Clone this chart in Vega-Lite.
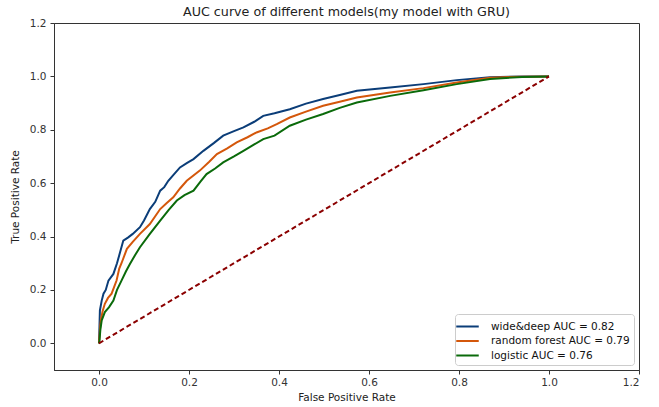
{
  "$schema": "https://vega.github.io/schema/vega-lite/v6.json",
  "width": 585,
  "height": 347,
  "autosize": {"type": "none"},
  "padding": {"left": 54, "top": 23, "right": 20, "bottom": 37},
  "title": {"text": "AUC curve of different models(my model with GRU)", "fontSize": 12.7, "font": "DejaVu Sans", "fontWeight": "normal", "color": "#222", "anchor": "middle", "offset": -1},
  "config": {
    "view": {"stroke": "#333", "strokeWidth": 1},
    "axis": {"grid": false, "domainColor": "#333", "tickColor": "#333", "labelColor": "#333", "titleColor": "#222", "tickSize": 4, "labelFontSize": 10.5, "titleFontSize": 10.5, "titleFontWeight": "normal", "labelFont": "DejaVu Sans", "titleFont": "DejaVu Sans"},
    "legend": {"labelFont": "DejaVu Sans", "labelFontSize": 10.5, "labelColor": "#111"}
  },
  "datasets": {
    "roc": [
      {"model": "wide&deep AUC = 0.82", "fpr": 0, "tpr": 0},
      {"model": "wide&deep AUC = 0.82", "fpr": 0.001, "tpr": 0.06},
      {"model": "wide&deep AUC = 0.82", "fpr": 0.002, "tpr": 0.123},
      {"model": "wide&deep AUC = 0.82", "fpr": 0.006, "tpr": 0.16},
      {"model": "wide&deep AUC = 0.82", "fpr": 0.01, "tpr": 0.186},
      {"model": "wide&deep AUC = 0.82", "fpr": 0.015, "tpr": 0.2},
      {"model": "wide&deep AUC = 0.82", "fpr": 0.021, "tpr": 0.235},
      {"model": "wide&deep AUC = 0.82", "fpr": 0.032, "tpr": 0.26},
      {"model": "wide&deep AUC = 0.82", "fpr": 0.04, "tpr": 0.3},
      {"model": "wide&deep AUC = 0.82", "fpr": 0.045, "tpr": 0.33},
      {"model": "wide&deep AUC = 0.82", "fpr": 0.054, "tpr": 0.385},
      {"model": "wide&deep AUC = 0.82", "fpr": 0.065, "tpr": 0.397},
      {"model": "wide&deep AUC = 0.82", "fpr": 0.075, "tpr": 0.41},
      {"model": "wide&deep AUC = 0.82", "fpr": 0.091, "tpr": 0.435},
      {"model": "wide&deep AUC = 0.82", "fpr": 0.1, "tpr": 0.46},
      {"model": "wide&deep AUC = 0.82", "fpr": 0.113, "tpr": 0.503},
      {"model": "wide&deep AUC = 0.82", "fpr": 0.125, "tpr": 0.53},
      {"model": "wide&deep AUC = 0.82", "fpr": 0.136, "tpr": 0.572},
      {"model": "wide&deep AUC = 0.82", "fpr": 0.145, "tpr": 0.585},
      {"model": "wide&deep AUC = 0.82", "fpr": 0.154, "tpr": 0.609},
      {"model": "wide&deep AUC = 0.82", "fpr": 0.165, "tpr": 0.63},
      {"model": "wide&deep AUC = 0.82", "fpr": 0.18, "tpr": 0.659},
      {"model": "wide&deep AUC = 0.82", "fpr": 0.195, "tpr": 0.675},
      {"model": "wide&deep AUC = 0.82", "fpr": 0.21, "tpr": 0.69},
      {"model": "wide&deep AUC = 0.82", "fpr": 0.232, "tpr": 0.721},
      {"model": "wide&deep AUC = 0.82", "fpr": 0.255, "tpr": 0.75},
      {"model": "wide&deep AUC = 0.82", "fpr": 0.276, "tpr": 0.778},
      {"model": "wide&deep AUC = 0.82", "fpr": 0.3, "tpr": 0.795},
      {"model": "wide&deep AUC = 0.82", "fpr": 0.321, "tpr": 0.809},
      {"model": "wide&deep AUC = 0.82", "fpr": 0.345, "tpr": 0.83},
      {"model": "wide&deep AUC = 0.82", "fpr": 0.365, "tpr": 0.852},
      {"model": "wide&deep AUC = 0.82", "fpr": 0.39, "tpr": 0.862},
      {"model": "wide&deep AUC = 0.82", "fpr": 0.424, "tpr": 0.877},
      {"model": "wide&deep AUC = 0.82", "fpr": 0.46, "tpr": 0.898},
      {"model": "wide&deep AUC = 0.82", "fpr": 0.498, "tpr": 0.915},
      {"model": "wide&deep AUC = 0.82", "fpr": 0.535, "tpr": 0.93},
      {"model": "wide&deep AUC = 0.82", "fpr": 0.573, "tpr": 0.946},
      {"model": "wide&deep AUC = 0.82", "fpr": 0.647, "tpr": 0.958},
      {"model": "wide&deep AUC = 0.82", "fpr": 0.721, "tpr": 0.971},
      {"model": "wide&deep AUC = 0.82", "fpr": 0.795, "tpr": 0.986},
      {"model": "wide&deep AUC = 0.82", "fpr": 0.869, "tpr": 0.997},
      {"model": "wide&deep AUC = 0.82", "fpr": 0.94, "tpr": 1.0},
      {"model": "wide&deep AUC = 0.82", "fpr": 1, "tpr": 1},
      {"model": "random forest AUC = 0.79", "fpr": 0, "tpr": 0},
      {"model": "random forest AUC = 0.79", "fpr": 0.002, "tpr": 0.05},
      {"model": "random forest AUC = 0.79", "fpr": 0.004, "tpr": 0.086},
      {"model": "random forest AUC = 0.79", "fpr": 0.008, "tpr": 0.12},
      {"model": "random forest AUC = 0.79", "fpr": 0.013, "tpr": 0.148},
      {"model": "random forest AUC = 0.79", "fpr": 0.02, "tpr": 0.17},
      {"model": "random forest AUC = 0.79", "fpr": 0.028, "tpr": 0.186},
      {"model": "random forest AUC = 0.79", "fpr": 0.039, "tpr": 0.235},
      {"model": "random forest AUC = 0.79", "fpr": 0.045, "tpr": 0.28},
      {"model": "random forest AUC = 0.79", "fpr": 0.05, "tpr": 0.3},
      {"model": "random forest AUC = 0.79", "fpr": 0.062, "tpr": 0.354},
      {"model": "random forest AUC = 0.79", "fpr": 0.075, "tpr": 0.38},
      {"model": "random forest AUC = 0.79", "fpr": 0.091, "tpr": 0.41},
      {"model": "random forest AUC = 0.79", "fpr": 0.113, "tpr": 0.447},
      {"model": "random forest AUC = 0.79", "fpr": 0.136, "tpr": 0.503},
      {"model": "random forest AUC = 0.79", "fpr": 0.15, "tpr": 0.525},
      {"model": "random forest AUC = 0.79", "fpr": 0.165, "tpr": 0.547},
      {"model": "random forest AUC = 0.79", "fpr": 0.18, "tpr": 0.58},
      {"model": "random forest AUC = 0.79", "fpr": 0.195, "tpr": 0.609},
      {"model": "random forest AUC = 0.79", "fpr": 0.224, "tpr": 0.647},
      {"model": "random forest AUC = 0.79", "fpr": 0.245, "tpr": 0.68},
      {"model": "random forest AUC = 0.79", "fpr": 0.262, "tpr": 0.709},
      {"model": "random forest AUC = 0.79", "fpr": 0.285, "tpr": 0.73},
      {"model": "random forest AUC = 0.79", "fpr": 0.306, "tpr": 0.753},
      {"model": "random forest AUC = 0.79", "fpr": 0.33, "tpr": 0.772},
      {"model": "random forest AUC = 0.79", "fpr": 0.35, "tpr": 0.79},
      {"model": "random forest AUC = 0.79", "fpr": 0.375, "tpr": 0.805},
      {"model": "random forest AUC = 0.79", "fpr": 0.395, "tpr": 0.821},
      {"model": "random forest AUC = 0.79", "fpr": 0.424, "tpr": 0.846},
      {"model": "random forest AUC = 0.79", "fpr": 0.46, "tpr": 0.868},
      {"model": "random forest AUC = 0.79", "fpr": 0.498, "tpr": 0.89},
      {"model": "random forest AUC = 0.79", "fpr": 0.535, "tpr": 0.905},
      {"model": "random forest AUC = 0.79", "fpr": 0.573, "tpr": 0.921},
      {"model": "random forest AUC = 0.79", "fpr": 0.647, "tpr": 0.94},
      {"model": "random forest AUC = 0.79", "fpr": 0.721, "tpr": 0.956},
      {"model": "random forest AUC = 0.79", "fpr": 0.795, "tpr": 0.977},
      {"model": "random forest AUC = 0.79", "fpr": 0.869, "tpr": 0.995},
      {"model": "random forest AUC = 0.79", "fpr": 0.94, "tpr": 0.999},
      {"model": "random forest AUC = 0.79", "fpr": 1, "tpr": 1},
      {"model": "logistic AUC = 0.76", "fpr": 0, "tpr": 0},
      {"model": "logistic AUC = 0.76", "fpr": 0.001, "tpr": 0.01},
      {"model": "logistic AUC = 0.76", "fpr": 0.003, "tpr": 0.05},
      {"model": "logistic AUC = 0.76", "fpr": 0.006, "tpr": 0.086},
      {"model": "logistic AUC = 0.76", "fpr": 0.013, "tpr": 0.117},
      {"model": "logistic AUC = 0.76", "fpr": 0.022, "tpr": 0.135},
      {"model": "logistic AUC = 0.76", "fpr": 0.032, "tpr": 0.16},
      {"model": "logistic AUC = 0.76", "fpr": 0.04, "tpr": 0.2},
      {"model": "logistic AUC = 0.76", "fpr": 0.05, "tpr": 0.235},
      {"model": "logistic AUC = 0.76", "fpr": 0.06, "tpr": 0.27},
      {"model": "logistic AUC = 0.76", "fpr": 0.069, "tpr": 0.298},
      {"model": "logistic AUC = 0.76", "fpr": 0.08, "tpr": 0.33},
      {"model": "logistic AUC = 0.76", "fpr": 0.091, "tpr": 0.36},
      {"model": "logistic AUC = 0.76", "fpr": 0.113, "tpr": 0.41},
      {"model": "logistic AUC = 0.76", "fpr": 0.136, "tpr": 0.46},
      {"model": "logistic AUC = 0.76", "fpr": 0.155, "tpr": 0.5},
      {"model": "logistic AUC = 0.76", "fpr": 0.173, "tpr": 0.535},
      {"model": "logistic AUC = 0.76", "fpr": 0.19, "tpr": 0.555},
      {"model": "logistic AUC = 0.76", "fpr": 0.21, "tpr": 0.572},
      {"model": "logistic AUC = 0.76", "fpr": 0.225, "tpr": 0.605},
      {"model": "logistic AUC = 0.76", "fpr": 0.239, "tpr": 0.634},
      {"model": "logistic AUC = 0.76", "fpr": 0.258, "tpr": 0.655},
      {"model": "logistic AUC = 0.76", "fpr": 0.276, "tpr": 0.678},
      {"model": "logistic AUC = 0.76", "fpr": 0.3, "tpr": 0.7},
      {"model": "logistic AUC = 0.76", "fpr": 0.321, "tpr": 0.721},
      {"model": "logistic AUC = 0.76", "fpr": 0.345, "tpr": 0.745},
      {"model": "logistic AUC = 0.76", "fpr": 0.365, "tpr": 0.765},
      {"model": "logistic AUC = 0.76", "fpr": 0.39, "tpr": 0.778},
      {"model": "logistic AUC = 0.76", "fpr": 0.424, "tpr": 0.815},
      {"model": "logistic AUC = 0.76", "fpr": 0.46, "tpr": 0.838},
      {"model": "logistic AUC = 0.76", "fpr": 0.498, "tpr": 0.859},
      {"model": "logistic AUC = 0.76", "fpr": 0.535, "tpr": 0.882},
      {"model": "logistic AUC = 0.76", "fpr": 0.573, "tpr": 0.902},
      {"model": "logistic AUC = 0.76", "fpr": 0.647, "tpr": 0.927},
      {"model": "logistic AUC = 0.76", "fpr": 0.721, "tpr": 0.948},
      {"model": "logistic AUC = 0.76", "fpr": 0.795, "tpr": 0.971},
      {"model": "logistic AUC = 0.76", "fpr": 0.869, "tpr": 0.99},
      {"model": "logistic AUC = 0.76", "fpr": 0.94, "tpr": 0.998},
      {"model": "logistic AUC = 0.76", "fpr": 1, "tpr": 1}
    ],
    "diag": [
      {"fpr": 0, "tpr": 0},
      {"fpr": 1, "tpr": 1}
    ]
  },
  "layer": [
    {
      "data": {"name": "roc"},
      "mark": {"type": "line", "strokeWidth": 2},
      "encoding": {
        "x": {"field": "fpr", "type": "quantitative", "scale": {"domain": [-0.1, 1.2], "nice": false, "zero": false}, "axis": {"title": "False Positive Rate", "values": [0, 0.2, 0.4, 0.6, 0.8, 1.0, 1.2], "format": ".1f", "labelPadding": 3, "titlePadding": 5}},
        "y": {"field": "tpr", "type": "quantitative", "scale": {"domain": [-0.1, 1.2], "nice": false, "zero": false}, "axis": {"title": "True Positive Rate", "values": [0, 0.2, 0.4, 0.6, 0.8, 1.0, 1.2], "format": ".1f", "labelPadding": 4, "titlePadding": 9}},
        "color": {"field": "model", "type": "nominal", "sort": null,
          "scale": {"domain": ["wide&deep AUC = 0.82", "random forest AUC = 0.79", "logistic AUC = 0.76"], "range": ["#0b3d78", "#d4570b", "#0a6a0a"]},
          "legend": {"title": null, "orient": "bottom-right", "offset": 5, "symbolType": "M-1.5,0H1.5", "symbolSize": 225, "symbolStrokeWidth": 2, "labelOffset": 15, "strokeColor": "#cccccc", "fillColor": "white", "padding": 4, "cornerRadius": 3, "rowPadding": 0.5}
        }
      }
    },
    {
      "data": {"name": "diag"},
      "mark": {"type": "line", "strokeWidth": 2, "strokeDash": [5, 3], "color": "#8b0000"},
      "encoding": {
        "x": {"field": "fpr", "type": "quantitative"},
        "y": {"field": "tpr", "type": "quantitative"}
      }
    }
  ]
}
